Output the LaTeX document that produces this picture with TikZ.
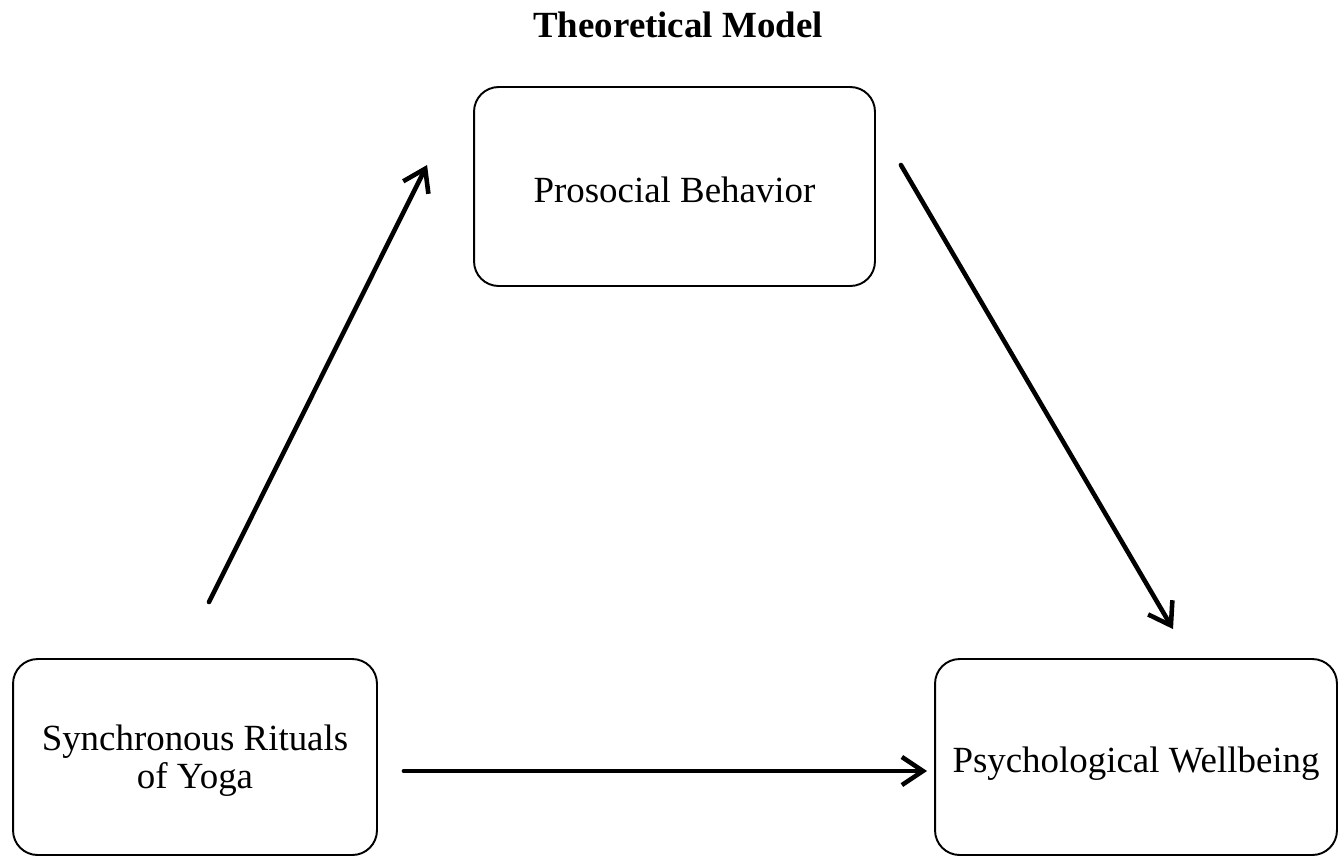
\documentclass[tikz,border=0pt]{standalone}
\usepackage{fontspec}
\setmainfont{Liberation Serif}
\usepackage{tikz}
\usetikzlibrary{arrows.meta,positioning}

\begin{document}
\begin{tikzpicture}[x=0.02cm,y=-0.02cm,
        box/.style={draw, line width=1.1pt, rounded corners=14pt, align=center,
                    font=\fontsize{21}{21.5}\selectfont, text depth=0pt},
        oneline/.style={text height=18pt},
        link/.style={line width=2.6pt, line cap=round,
                     -{Straight Barb[length=12pt,width=16pt,line width=2.6pt]}}]
                % Fix the page size
                \useasboundingbox (0,0) rectangle (1338,856);

                % Title
                \node[font=\fontsize{21}{23}\selectfont\bfseries] (title) at (678,25) {Theoretical Model};

                % The three boxes
                \node[box, oneline, minimum width=8.02cm, minimum height=3.98cm] (pro) at (674.5,186.5) {Prosocial Behavior};
                \node[box, minimum width=7.28cm, minimum height=3.92cm] (syn) at (195,757) {Synchronous Rituals\\of Yoga};
                \node[box, oneline, minimum width=8.04cm, minimum height=3.92cm] (psy) at (1136,757) {Psychological Wellbeing};

                % Paths between them
                \draw[link] ([shift={(14,-56)}]syn.north) -- ([shift={(-46,-21.5)}]pro.west);
                \draw[link] ([shift={(25,-21.5)}]pro.east) -- ([shift={(37,-29)}]psy.north);
                \draw[link] ([shift={(26,14)}]syn.east) -- ([shift={(-7,14)}]psy.west);
            \end{tikzpicture}
\end{document}
